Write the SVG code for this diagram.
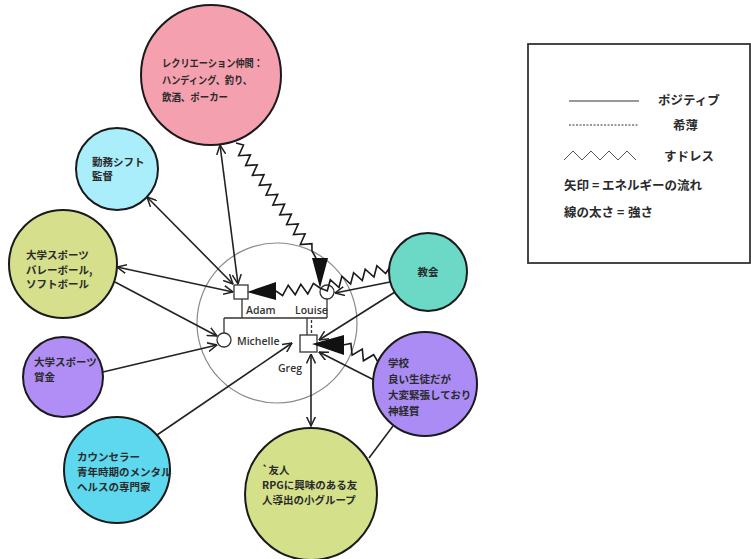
<svg xmlns="http://www.w3.org/2000/svg" width="751" height="559" viewBox="0 0 751 559">
<defs>
<style>
.node{stroke:#1a1a1a;stroke-width:2}
.jt{font-family:'Noto Sans CJK JP',sans-serif;font-size:10.5px;font-weight:bold;fill:#2a2a2a}
.lt{font-family:'Noto Sans CJK JP',sans-serif;font-size:12.5px;font-weight:bold;fill:#2a2a2a}
.nm{font-family:'Open Sans','Liberation Sans',sans-serif;font-size:10.5px;font-weight:600;fill:#333}
.ln{stroke:#222;stroke-width:1.6;fill:none}
.arr{marker-end:url(#ch)}
.both{marker-start:url(#ch);marker-end:url(#ch)}
.zz{stroke:#1a1a1a;stroke-width:1.6;fill:none;stroke-linejoin:miter}
.tri{fill:#111}
.fam{stroke:#333;stroke-width:1.3;fill:#fff}
.fl{stroke:#333;stroke-width:1.3}
</style>
<marker id="ch" viewBox="0 0 10 10" refX="9.5" refY="5" markerWidth="10" markerHeight="10" markerUnits="userSpaceOnUse" orient="auto-start-reverse">
<path d="M0,0.5 L9.5,5 L0,9.5" fill="none" stroke="#222" stroke-width="1.5"/>
</marker>
</defs>
<rect width="751" height="559" fill="#fff"/>

<g id="family-circle">
<circle cx="277" cy="323" r="80" fill="#fff" stroke="#8a8a8a" stroke-width="1.2"/>
</g>

<g id="legend">
<rect x="528" y="44" width="222" height="219" fill="#fff" stroke="#333" stroke-width="1.8"/>
<line x1="569" y1="101" x2="639" y2="101" stroke="#333" stroke-width="1"/>
<text class="lt" x="658" y="105">ポジティブ</text>
<line x1="569" y1="125" x2="639" y2="125" stroke="#333" stroke-width="1" stroke-dasharray="2,1.5"/>
<text class="lt" x="673" y="130">希薄</text>
<polyline points="564,160 573,151 582,160 591,151 600,160 609,151 618,160 627,151 636,160" fill="none" stroke="#555" stroke-width="1"/>
<text class="lt" x="664" y="161">すドレス</text>
<text class="lt" y="190"><tspan x="564">矢印</tspan><tspan x="592">=</tspan><tspan x="602">エネルギーの流れ</tspan></text>
<text class="lt" y="217"><tspan x="564">線の太さ</tspan><tspan x="617">=</tspan><tspan x="628">強さ</tspan></text>
</g>

<g id="adam">
<rect class="fam" x="234" y="285" width="14" height="14"/>
<text class="nm" x="246" y="314">Adam</text>
</g>
<g id="louise">
<circle class="fam" cx="327" cy="292" r="7"/>
<text class="nm" x="295" y="314">Louise</text>
</g>
<g id="michelle">
<circle class="fam" cx="224" cy="340" r="7"/>
<text class="nm" x="237" y="345">Michelle</text>
</g>
<g id="greg">
<rect class="fam" x="300" y="335" width="17" height="17"/>
<text class="nm" x="278" y="372">Greg</text>
</g>

<g id="connectors">
<line class="ln both" x1="220" y1="145" x2="238" y2="284"/>
<line class="ln both" x1="147" y1="197" x2="233" y2="284"/>
<line class="ln both" x1="117" y1="267" x2="233" y2="292"/>
<line class="ln arr" x1="115" y1="282" x2="217" y2="336"/>
<line class="ln arr" x1="103" y1="372" x2="217" y2="345"/>
<line class="ln arr" x1="157" y1="435" x2="292" y2="343"/>
<line class="ln arr" x1="390" y1="282" x2="335" y2="293"/>
<line class="ln arr" x1="395" y1="292" x2="319" y2="340"/>
<line class="ln arr" x1="374" y1="380" x2="319" y2="352"/>
<line class="ln both" x1="311" y1="354" x2="311" y2="426"/>
<line class="ln" x1="369" y1="458" x2="393" y2="426"/>
<polyline class="zz" points="236,143 243.5,145.1 238.7,155.7 250.4,154.9 245.6,165.6 257.2,164.8 252.4,175.4 264,174.7 259.3,185.3 270.9,184.5 266.1,195.2 277.7,194.4 272.9,205 284.6,204.2 279.8,214.9 291.4,214.1 286.6,224.7 298.2,224 293.5,234.6 305.1,233.8 300.3,244.5 311.9,243.7 312,251 316,258"/>
<polygon class="tri" points="312,258 328,258 320,288"/>
<polyline class="zz" points="390,267 385.6,273.5 376.9,265.7 374,277 365.2,269.2 362.3,280.5 353.6,272.7 350.6,284 341.9,276.2 339,287.5 330.3,279.7 327.3,291 320,288 313.4,283.4 307.8,293.9 300.8,284.3 295.2,294.7 288.2,285.2 282.6,295.6 276,291"/>
<polygon class="tri" points="247,292 276,282 276,300"/>
<polyline class="zz" points="378,362 373.6,354.7 363.4,360.8 362.3,349 352.1,355.2 350.9,343.4 343,345"/>
<polygon class="tri" points="312,344 344,335 344,355"/>
<line class="fl" x1="242" y1="299" x2="242" y2="318"/>
<line class="fl" x1="327" y1="299" x2="327" y2="318"/>
<line class="fl" x1="224" y1="318" x2="327" y2="318"/>
<line class="fl" x1="224" y1="318" x2="224" y2="333"/>
<line class="fl" x1="307" y1="318" x2="307" y2="335"/>
<line class="fl" x1="311.5" y1="320" x2="311.5" y2="335" stroke-dasharray="3,2"/>
</g>

<g id="recreation">
<circle class="node" cx="211" cy="75" r="70" fill="#F5A0AF"/>
<text class="jt" x="162" y="67" textLength="101" lengthAdjust="spacingAndGlyphs">レクリエーション仲間：</text>
<text class="jt" x="162" y="84" textLength="90" lengthAdjust="spacingAndGlyphs">ハンディング、釣り、</text>
<text class="jt" x="162" y="101" textLength="66" lengthAdjust="spacingAndGlyphs">飲酒、ポーカー</text>
</g>
<g id="shift">
<circle class="node" cx="117" cy="169" r="41" fill="#AAEEFC"/>
<text class="jt" x="92" y="166">勤務シフト</text>
<text class="jt" x="92" y="180">監督</text>
</g>
<g id="sports">
<circle class="node" cx="63" cy="264" r="54" fill="#D5DF8C"/>
<text class="jt" x="26" y="259">大学スポーツ</text>
<text class="jt" x="26" y="274">バレーボール,</text>
<text class="jt" x="26" y="288">ソフトボール</text>
</g>
<g id="prize">
<circle class="node" cx="63" cy="377" r="40" fill="#B08EF5"/>
<text class="jt" x="34" y="366">大学スポーツ</text>
<text class="jt" x="34" y="381">賞金</text>
</g>
<g id="counselor">
<circle class="node" cx="117" cy="470" r="53" fill="#5DD8EE"/>
<text class="jt" x="77" y="461">カウンセラー</text>
<text class="jt" x="77" y="476">青年時期のメンタル</text>
<text class="jt" x="77" y="491">ヘルスの専門家</text>
</g>
<g id="church">
<circle class="node" cx="428" cy="272" r="39" fill="#6CD8C6"/>
<text class="jt" x="428" y="276" text-anchor="middle">教会</text>
</g>
<g id="school">
<circle class="node" cx="425" cy="384" r="52" fill="#AB8CF5"/>
<text class="jt" x="388" y="367">学校</text>
<text class="jt" x="388" y="383">良い生徒だが</text>
<text class="jt" x="388" y="399">大変緊張しており</text>
<text class="jt" x="388" y="415">神経質</text>
</g>
<g id="friends">
<circle class="node" cx="311" cy="494" r="66" fill="#D5E08B"/>
<text class="jt" x="262" y="474">`友人</text>
<text class="jt" x="262" y="489">RPGに興味のある友</text>
<text class="jt" x="262" y="504">人導出の小グループ</text>
</g>
</svg>
